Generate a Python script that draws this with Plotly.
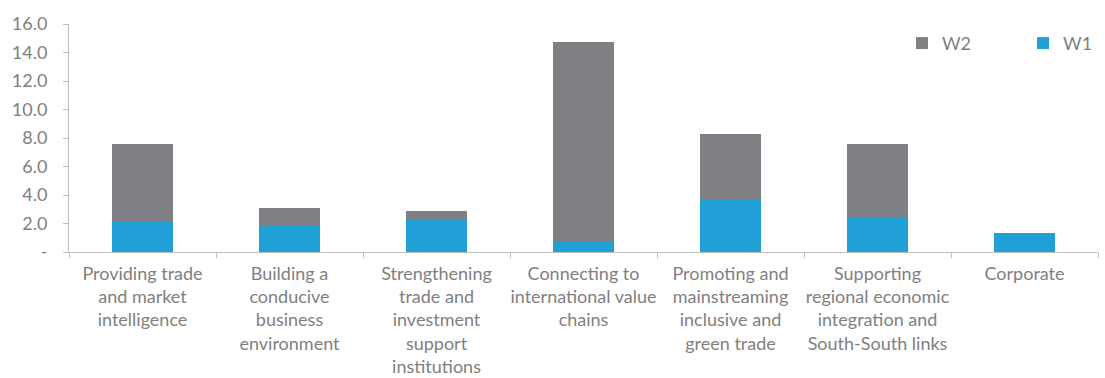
import plotly.graph_objects as go

categories = [
    "Providing trade<br>and market<br>intelligence",
    "Building a<br>conducive<br>business<br>environment",
    "Strengthening<br>trade and<br>investment<br>support<br>institutions",
    "Connecting to<br>international value<br>chains",
    "Promoting and<br>mainstreaming<br>inclusive and<br>green trade",
    "Supporting<br>regional economic<br>integration and<br>South-South links",
    "Corporate",
]
w1 = [2.1, 1.85, 2.25, 0.75, 3.75, 2.4, 1.3]
w2 = [5.45, 1.25, 0.6, 14.0, 4.55, 5.2, 0.0]
ytick_vals = [0, 2, 4, 6, 8, 10, 12, 14, 16]
ytick_text = ["-", "2.0", "4.0", "6.0", "8.0", "10.0", "12.0", "14.0", "16.0"]

FONT = "Lato"
TXT = "#7f7f7f"
AX = "#bfbfbf"

fig = go.Figure()
fig.add_trace(go.Bar(x=categories, y=w1, name="W1", legend="legend2",
                     marker=dict(color="#219fd7", line_width=0)))
fig.add_trace(go.Bar(x=categories, y=w2, name="W2", legend="legend",
                     marker=dict(color="#7f8083", line_width=0)))

leg_common = dict(orientation="h", yanchor="middle", y=0.915,
                  font=dict(size=18, color=TXT, family=FONT), itemwidth=30,
                  bgcolor="rgba(0,0,0,0)")
fig.update_layout(
    barmode="stack",
    bargap=0.59,
    width=1105, height=378,
    margin=dict(l=69, r=7, t=24, b=126),
    plot_bgcolor="white", paper_bgcolor="white",
    font=dict(family=FONT, size=18, color=TXT),
    legend=dict(x=0.8095, xanchor="left", **leg_common),
    legend2=dict(x=1.0, xanchor="right", **leg_common),
    showlegend=True,
)
fig.update_xaxes(showline=True, linecolor=AX, linewidth=1, ticks="outside", tickson="boundaries",
                 ticklen=5, tickcolor=AX, tickangle=0, showgrid=False, ticklabelstandoff=5,
                 automargin=False,
                 tickfont=dict(size=18, color=TXT, family=FONT))
fig.update_yaxes(range=[0, 16], tickvals=ytick_vals, ticktext=ytick_text, showline=True,
                 linecolor=AX, linewidth=1, ticks="outside", ticklen=5, tickcolor=AX,
                 showgrid=False, zeroline=False, ticklabelstandoff=12, automargin=False,
                 tickfont=dict(size=18, color=TXT, family=FONT))
fig.write_html("out.html")
